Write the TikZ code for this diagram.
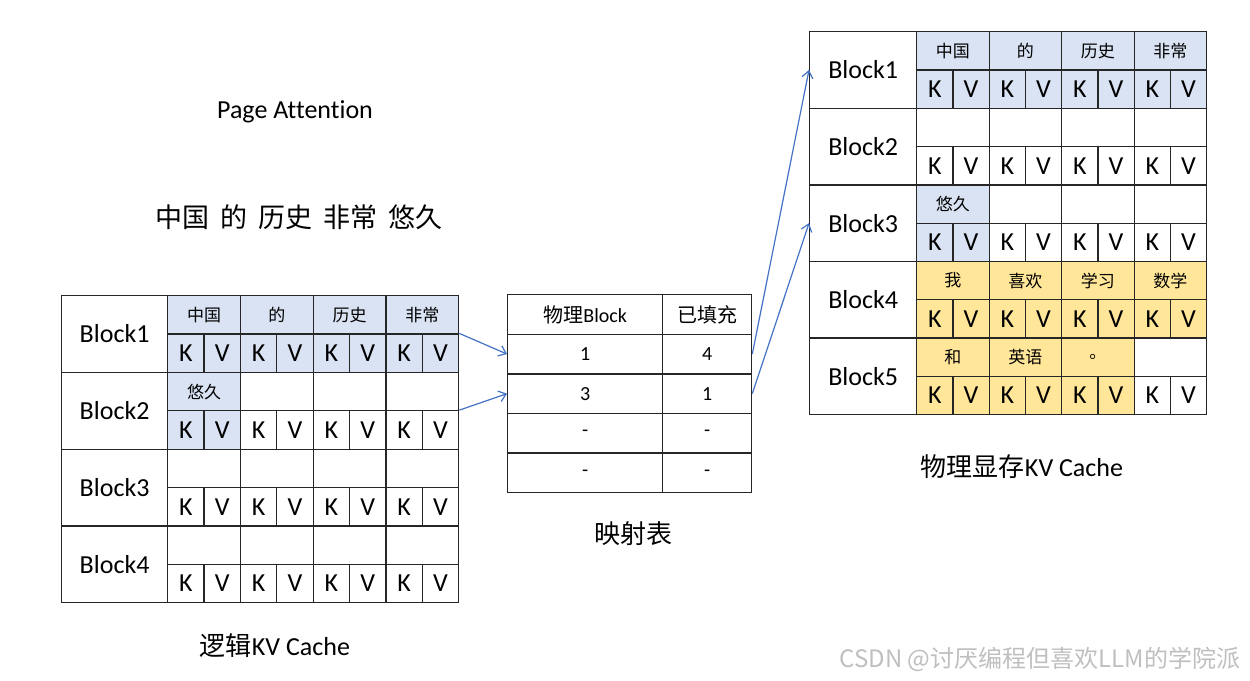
\documentclass[tikz,border=0pt]{standalone}
\usepackage{fontspec}
\setmainfont{Carlito}[Ligatures=NoCommon]
\newfontfamily\cjk{Noto Sans CJK SC}
\usetikzlibrary{arrows.meta}
\definecolor{blu}{HTML}{DAE3F3}
\definecolor{yel}{HTML}{FFE699}
\definecolor{arr}{HTML}{4472C4}
\definecolor{grid}{HTML}{262626}
\newcommand\blkfont{\fontsize{26}{26}\selectfont}
\newcommand\kvfont{\fontsize{26}{26}\selectfont}
\newcommand\tokfont{\cjk\fontsize{17}{17}\selectfont}
\newcommand\midfont{\fontsize{20}{20}\selectfont}
\newcommand\capfont{\fontsize{26}{26}\selectfont}
\begin{document}
\begin{tikzpicture}[x=1pt,y=-1pt,
  box/.style 2 args={draw=grid, line width=1.3pt, inner sep=0pt, anchor=north west,
    minimum width=#1, minimum height=#2},
  link/.style={draw=arr, line width=1.2pt, -{Straight Barb[length=7pt,width=11pt]}},
  caption/.style={inner sep=0pt, font=\capfont}]
\useasboundingbox[fill=white] (0,0) rectangle (1250,680);

% titles
\node[caption] (title) at (295,112) {Page Attention};
\node[inner sep=0pt, font=\cjk\fontsize{27}{27}\selectfont] (sent) at (299,217)
  {中国\hspace{11pt}的\hspace{11pt}历史\hspace{11pt}非常\hspace{11pt}悠久};

% ---------------- logical KV cache ----------------
\foreach \r in {0,1,2,3}{
  \pgfmathsetmacro\yy{295+76.75*\r}
  \pgfmathtruncatemacro\nn{\r+1}
  \node[box={106pt}{76.75pt}, font=\blkfont] (L\r) at (61,\yy) {Block\nn};
}
\foreach \r/\c/\tk/\fl in {0/0/中国/blu,0/1/的/blu,0/2/历史/blu,0/3/非常/blu,
  1/0/悠久/blu,1/1//white,1/2//white,1/3//white,
  2/0//white,2/1//white,2/2//white,2/3//white,
  3/0//white,3/1//white,3/2//white,3/3//white}{
  \pgfmathsetmacro\xx{167+72.75*\c}
  \pgfmathsetmacro\yy{295+76.75*\r}
  \node[box={72.75pt}{38.4pt}, fill=\fl, font=\tokfont] (Lt\r\c) at (\xx,\yy) {\tk};
  \node[box={36.375pt}{38.35pt}, fill=\fl, font=\kvfont] (Lk\r\c) at (\xx,\yy+38.4) {K};
  \node[box={36.375pt}{38.35pt}, fill=\fl, font=\kvfont] (Lv\r\c) at (\xx+36.375,\yy+38.4) {V};
}
\node[caption] (lcap) at (275,646) {{\cjk 逻辑}KV Cache};

% ---------------- mapping table ----------------
\node[box={155pt}{39.6pt}, font=\midfont] (M0a) at (507,294) {{\cjk 物理}Block};
\node[box={89pt}{39.6pt}, font=\midfont\cjk] (M0b) at (662,294) {已填充};
\node[box={155pt}{39.6pt}, font=\midfont] (M1a) at (507,333.6) {1};
\node[box={89pt}{39.6pt}, font=\midfont] (M1b) at (662,333.6) {4};
\node[box={155pt}{39.6pt}, font=\midfont] (M2a) at (507,373.2) {3};
\node[box={89pt}{39.6pt}, font=\midfont] (M2b) at (662,373.2) {1};
\node[box={155pt}{39.6pt}, font=\midfont] (M3a) at (507,412.8) {-};
\node[box={89pt}{39.6pt}, font=\midfont] (M3b) at (662,412.8) {-};
\node[box={155pt}{39.6pt}, font=\midfont] (M4a) at (507,452.4) {-};
\node[box={89pt}{39.6pt}, font=\midfont] (M4b) at (662,452.4) {-};
\node[caption, font=\capfont\cjk] (mcap) at (633,534) {映射表};

% ---------------- physical KV cache ----------------
\foreach \r in {0,1,2,3,4}{
  \pgfmathsetmacro\yy{31+76.6*\r}
  \pgfmathtruncatemacro\nn{\r+1}
  \node[box={107pt}{76.6pt}, font=\blkfont] (R\r) at (809,\yy) {Block\nn};
}
\foreach \r/\c/\tk/\fl in {0/0/中国/blu,0/1/的/blu,0/2/历史/blu,0/3/非常/blu,
  1/0//white,1/1//white,1/2//white,1/3//white,
  2/0/悠久/blu,2/1//white,2/2//white,2/3//white,
  3/0/我/yel,3/1/喜欢/yel,3/2/学习/yel,3/3/数学/yel,
  4/0/和/yel,4/1/英语/yel,4/2/。/yel,4/3//white}{
  \pgfmathsetmacro\xx{916+72.5*\c}
  \pgfmathsetmacro\yy{31+76.6*\r}
  \node[box={72.5pt}{38.3pt}, fill=\fl, font=\tokfont] (Rt\r\c) at (\xx,\yy) {\tk};
  \node[box={36.25pt}{38.3pt}, fill=\fl, font=\kvfont] (Rk\r\c) at (\xx,\yy+38.3) {K};
  \node[box={36.25pt}{38.3pt}, fill=\fl, font=\kvfont] (Rv\r\c) at (\xx+36.25,\yy+38.3) {V};
}
\node[caption] (rcap) at (1022,467) {{\cjk 物理显存}KV Cache};

% ---------------- connectors ----------------
\draw[link] (Lv03.north east) -- (M1a.west);
\draw[link] (Lv13.north east) -- (M2a.west);
\draw[link] (M1b.east) -- (R0.west);
\draw[link] (M2b.east) -- (R2.west);

% watermark
\node[inner sep=0pt, text=black!25, font=\cjk\fontsize{24}{24}\selectfont] (wm) at (1040,659)
  {CSDN @讨厌编程但喜欢LLM的学院派};
\end{tikzpicture}
\end{document}
